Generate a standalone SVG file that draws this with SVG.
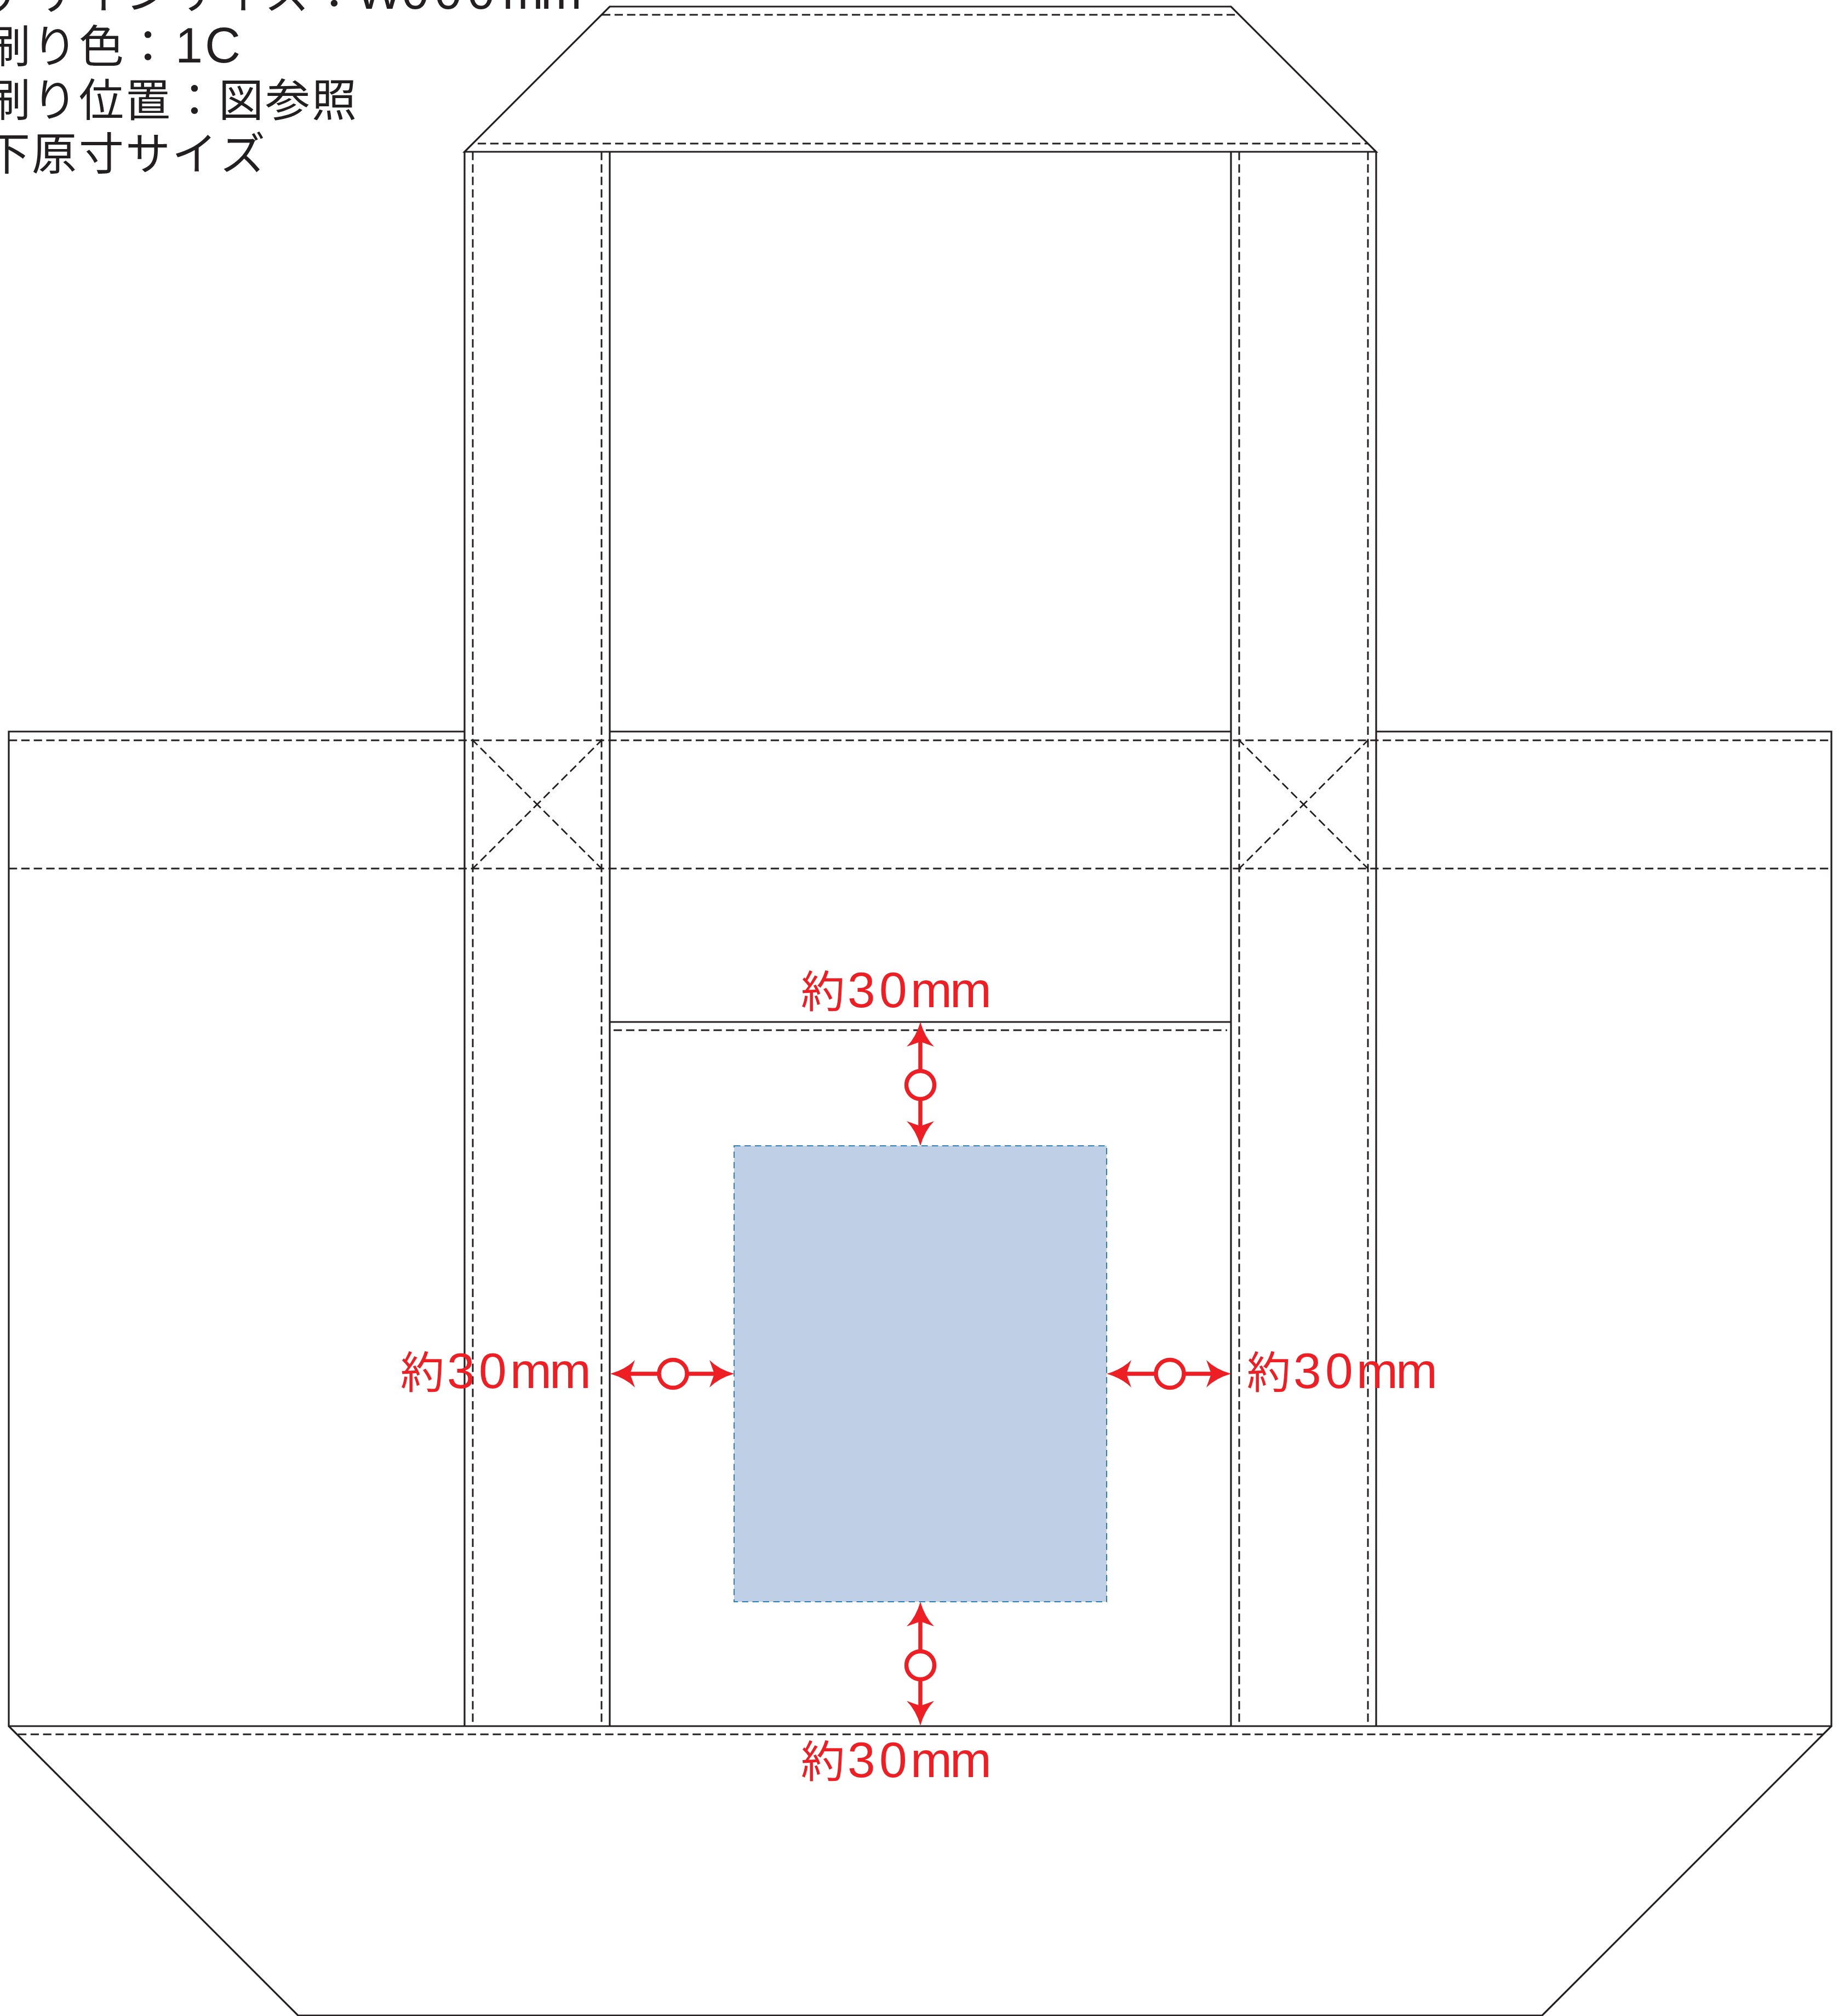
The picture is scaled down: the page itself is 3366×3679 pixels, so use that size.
<svg xmlns="http://www.w3.org/2000/svg" xmlns:xlink="http://www.w3.org/1999/xlink" width="3366" height="3679" viewBox="0 0 3366 3679">
<style>
.s{fill:none;stroke:#231f20;stroke-width:3.200}
.d{fill:none;stroke:#231f20;stroke-width:3;stroke-dasharray:15.2 7.6}
.x{fill:none;stroke:#231f20;stroke-width:2.800;stroke-dasharray:15.2 7.6;stroke-dashoffset:6}
.r{fill:none;stroke:#ed1f24;stroke-width:7.500}
.c{fill:#fff;stroke:#ed1f24;stroke-width:7.500}
.h{fill:#ed1f24}
.t{fill:#231f20;font-family:"Noto Sans CJK JP","Liberation Sans",sans-serif;font-size:82px;font-weight:400}
.l{font-family:"Liberation Sans","Noto Sans CJK JP",sans-serif;font-size:90px;font-weight:400}
.rt{fill:#ed1f24;font-family:"Noto Sans CJK JP",sans-serif;font-size:80px;font-weight:400}
.rl{font-family:"Liberation Sans",sans-serif;font-size:91px;font-weight:400}
</style>
<defs>
<path id="head" d="M0 0Q8 28 25 45L0 36L-25 45Q-8 28 0 0Z"/>
</defs>
<rect width="3366" height="3679" fill="#fff"/>

<g id="bag-body">
<path class="s" d="M848 1335H16V3150H3343V1335H2512M1113 1335H2247"/>
<path class="s" d="M16 3150L544 3678H2815L3343 3150"/>
<path class="d" d="M33 3165H3328"/>
<path class="d" d="M16 1351H3343M16 1585H3343"/>
</g>

<g id="handle-top">
<path class="s" d="M848 277L1113 12H2247L2512 277Z"/>
<path class="d" d="M1099 27H2262M872 262H2497"/>
</g>

<g id="handle-left">
<path class="s" d="M848 277V3150M1113 277V3150"/>
<path class="d" d="M863 277V3150M1098 277V3150"/>
<path class="x" d="M980.500 1468L863 1351M980.500 1468L1098 1351M980.500 1468L863 1585M980.500 1468L1098 1585"/>
</g>

<g id="handle-right">
<path class="s" d="M2247 277V3150M2512 277V3150"/>
<path class="d" d="M2262 277V3150M2497 277V3150"/>
<path class="x" d="M2379.500 1468L2262 1351M2379.500 1468L2497 1351M2379.500 1468L2262 1585M2379.500 1468L2497 1585"/>
</g>

<g id="pocket">
<path class="s" d="M1113 1865H2247"/>
<path class="d" d="M1120 1880H2240"/>
</g>

<g id="print-area">
<rect x="1340" y="2091" width="680" height="832" fill="#bfcfe5" stroke="#2e7fb8" stroke-width="2" stroke-dasharray="11.500 7.500"/>
</g>

<g id="connectors">
<g id="dim-top">
<path class="r" d="M1680 1895V2060"/>
<circle class="c" cx="1680" cy="1980" r="25.500"/>
<use xlink:href="#head" href="#head" class="h" transform="translate(1680 1865)"/>
<use xlink:href="#head" href="#head" class="h" transform="translate(1680 2091) rotate(180)"/>
</g>
<g id="dim-bottom">
<path class="r" d="M1680 2955V3118"/>
<circle class="c" cx="1680" cy="3039" r="25.500"/>
<use xlink:href="#head" href="#head" class="h" transform="translate(1680 2923)"/>
<use xlink:href="#head" href="#head" class="h" transform="translate(1680 3149) rotate(180)"/>
</g>
<g id="dim-left">
<path class="r" d="M1145 2507H1310"/>
<circle class="c" cx="1228.500" cy="2507" r="25.500"/>
<use xlink:href="#head" href="#head" class="h" transform="translate(1114 2507) rotate(-90)"/>
<use xlink:href="#head" href="#head" class="h" transform="translate(1340 2507) rotate(90)"/>
</g>
<g id="dim-right">
<path class="r" d="M2050 2507H2215"/>
<circle class="c" cx="2135.500" cy="2507" r="25.500"/>
<use xlink:href="#head" href="#head" class="h" transform="translate(2020 2507) rotate(-90)"/>
<use xlink:href="#head" href="#head" class="h" transform="translate(2247 2507) rotate(90)"/>
</g>
</g>

<g id="notes">
<text class="t" y="16"><tspan x="-26 59 144 229 314 399 484 569">デザインサイズ：</tspan><tspan class="l" x="650 733 793 853 917 987">W000mm</tspan></text>
<text class="t" y="114"><tspan x="-26 59 144 229">刷り色：</tspan><tspan class="l" x="320 374">1C</tspan></text>
<text class="t" y="212" x="-26 59 144 229 314 399 484 569">刷り位置：図参照</text>
<text class="t" y="310" x="-27 58 144 229 314 402">下原寸サイズ</text>
</g>

<g id="label-top"><text class="rt" y="1838"><tspan x="1462">約</tspan><tspan class="rl" x="1547 1605 1662 1734">30mm</tspan></text></g>
<g id="label-bottom"><text class="rt" y="3243"><tspan x="1462">約</tspan><tspan class="rl" x="1547 1605 1662 1734">30mm</tspan></text></g>
<g id="label-left"><text class="rt" y="2533"><tspan x="731">約</tspan><tspan class="rl" x="816 874 931 1003">30mm</tspan></text></g>
<g id="label-right"><text class="rt" y="2533"><tspan x="2276">約</tspan><tspan class="rl" x="2361 2419 2476 2548">30mm</tspan></text></g>
</svg>
